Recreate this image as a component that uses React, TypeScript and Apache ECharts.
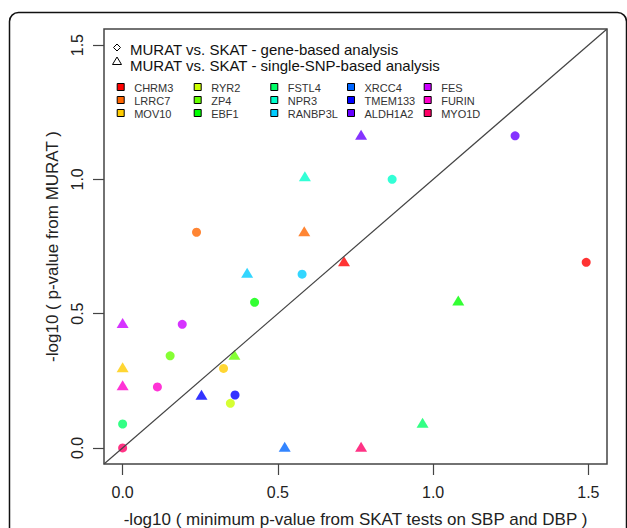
import React, { useEffect, useRef } from "react";
import * as echarts from "echarts";

const genes = ["CHRM3", "LRRC7", "MOV10", "RYR2", "ZP4", "EBF1", "FSTL4", "NPR3", "RANBP3L", "XRCC4", "TMEM133", "ALDH1A2", "FES", "FURIN", "MYO1D"];
const geneColors = ["#FF0000", "#FF6600", "#FFCC00", "#CCFF00", "#66FF00", "#00FF00", "#00FF66", "#00FFCC", "#00CCFF", "#0066FF", "#0000FF", "#6600FF", "#CC00FF", "#FF00CC", "#FF0066"];

// gene-based analysis (circles)
const geneBasedX = [1.493, 0.238, 0.325, 0.347, 0.153, 0.425, 0, 0.868, 0.578, null, 0.362, 1.264, 0.192, 0.112, 0];
const geneBasedY = [0.691, 0.803, 0.296, 0.166, 0.343, 0.542, 0.089, 1.0, 0.647, null, 0.197, 1.162, 0.46, 0.227, 0];
// single-SNP-based analysis (triangles)
const snpBasedX = [0.713, 0.585, 0, null, 0.36, 1.081, 0.966, 0.587, 0.401, 0.522, 0.254, 0.768, 0, 0, 0.768];
const snpBasedY = [0.695, 0.807, 0.3, null, 0.347, 0.549, 0.094, 1.012, 0.652, 0.004, 0.198, 1.166, 0.465, 0.233, 0.004];

const tickValues = [0, 0.5, 1.0, 1.5];
const axisMin = -0.06;
const axisMax = 1.56;
const diagonal = [[axisMin, axisMin], [axisMax, axisMax]];

const legendTitles = ["MURAT vs. SKAT - gene-based analysis", "MURAT vs. SKAT - single-SNP-based analysis"];
const xTitle = "-log10 ( minimum p-value from SKAT tests on SBP and DBP )";
const yTitle = "-log10 ( p-value from MURAT )";

const FONT = "'Liberation Sans', Arial, Helvetica, sans-serif";

function buildPoints(xs: (number | null)[], ys: (number | null)[]) {
  const out: any[] = [];
  genes.forEach((g, i) => {
    if (xs[i] == null || ys[i] == null) return;
    out.push({ name: g, value: [xs[i], ys[i]], itemStyle: { color: geneColors[i] } });
  });
  return out;
}

export default function App() {
  const ref = useRef<HTMLDivElement>(null);
  useEffect(() => {
    document.body.style.margin = "0";
    const chart = echarts.init(ref.current!, null, { renderer: "svg" });

    const legendCols = [120.7, 197.7, 274.3, 351, 427.7];
    const legendRows = [87, 100, 113];
    const legendEls: any[] = [];
    genes.forEach((g, i) => {
      const c = Math.floor(i / 3);
      const r = i % 3;
      const cx = legendCols[c];
      const cy = legendRows[r];
      legendEls.push({
        type: "rect",
        shape: { x: cx - 3.5, y: cy - 3.5, width: 7, height: 7 },
        style: { fill: geneColors[i], stroke: "#000", lineWidth: 1 },
      });
      legendEls.push({
        type: "text",
        x: cx + 13.5,
        y: cy + 0.5,
        style: { text: g, fill: "#333", font: `11px ${FONT}`, verticalAlign: "middle", align: "left" },
      });
    });

    const axisTextStyle = { color: "#222", fontSize: 16, fontFamily: FONT };

    chart.setOption({
      animation: false,
      backgroundColor: "#fff",
      grid: {
        left: 104,
        top: 29,
        width: 503,
        height: 435,
        containLabel: false,
        outerBoundsMode: "none",
        show: true,
        borderColor: "#444",
        borderWidth: 1.5,
        backgroundColor: "transparent",
      },
      xAxis: {
        type: "value",
        min: axisMin,
        max: axisMax,
        splitLine: { show: false },
        axisLine: { show: false, onZero: false },
        axisTick: { show: true, length: 11, customValues: tickValues, lineStyle: { color: "#444", width: 1.2 } },
        axisLabel: { customValues: tickValues, formatter: (v: number) => v.toFixed(1), margin: 20, ...axisTextStyle },
        name: xTitle,
        nameLocation: "middle",
        nameGap: 47,
        nameTextStyle: { color: "#222", fontSize: 17, fontFamily: FONT },
      },
      yAxis: {
        type: "value",
        min: axisMin,
        max: axisMax,
        splitLine: { show: false },
        axisLine: { show: false, onZero: false },
        axisTick: { show: true, length: 11, customValues: tickValues, lineStyle: { color: "#444", width: 1.2 } },
        axisLabel: { customValues: tickValues, formatter: (v: number) => v.toFixed(1), rotate: 90, margin: 19, ...axisTextStyle },
        name: yTitle,
        nameLocation: "middle",
        nameGap: 34,
        nameTextStyle: { color: "#222", fontSize: 17, fontFamily: FONT },
      },
      series: [
        {
          type: "scatter",
          name: "gene-based",
          symbol: "circle",
          symbolSize: 9,
          data: buildPoints(geneBasedX, geneBasedY),
          z: 2,
        },
        {
          type: "scatter",
          name: "single-SNP-based",
          symbol: "triangle",
          symbolSize: [12, 10],
          data: buildPoints(snpBasedX, snpBasedY),
          z: 3,
        },
        {
          type: "line",
          data: diagonal,
          symbol: "none",
          lineStyle: { color: "#444", width: 1.2 },
          silent: true,
          z: 4,
        },
      ],
      graphic: [
        {
          type: "rect",
          shape: { x: 9.5, y: 12.5, width: 617, height: 560, r: 9 },
          style: { fill: "none", stroke: "#111", lineWidth: 1.5 },
          z: 100,
        },
        {
          type: "polygon",
          shape: { points: [[117, 44], [120.5, 47.5], [117, 51], [113.5, 47.5]] },
          style: { fill: "#fff", stroke: "#000", lineWidth: 1 },
        },
        {
          type: "polygon",
          shape: { points: [[117, 57], [121.5, 64.5], [112.5, 64.5]] },
          style: { fill: "#fff", stroke: "#000", lineWidth: 1 },
        },
        {
          type: "text",
          x: 130,
          y: 49,
          style: { text: legendTitles[0], fill: "#111", font: `15px ${FONT}`, verticalAlign: "middle", align: "left" },
        },
        {
          type: "text",
          x: 130,
          y: 65,
          style: { text: legendTitles[1], fill: "#111", font: `15px ${FONT}`, verticalAlign: "middle", align: "left" },
        },
        ...legendEls,
      ],
    });
    return () => chart.dispose();
  }, []);
  return <div ref={ref} style={{ width: 627, height: 528 }} />;
}
